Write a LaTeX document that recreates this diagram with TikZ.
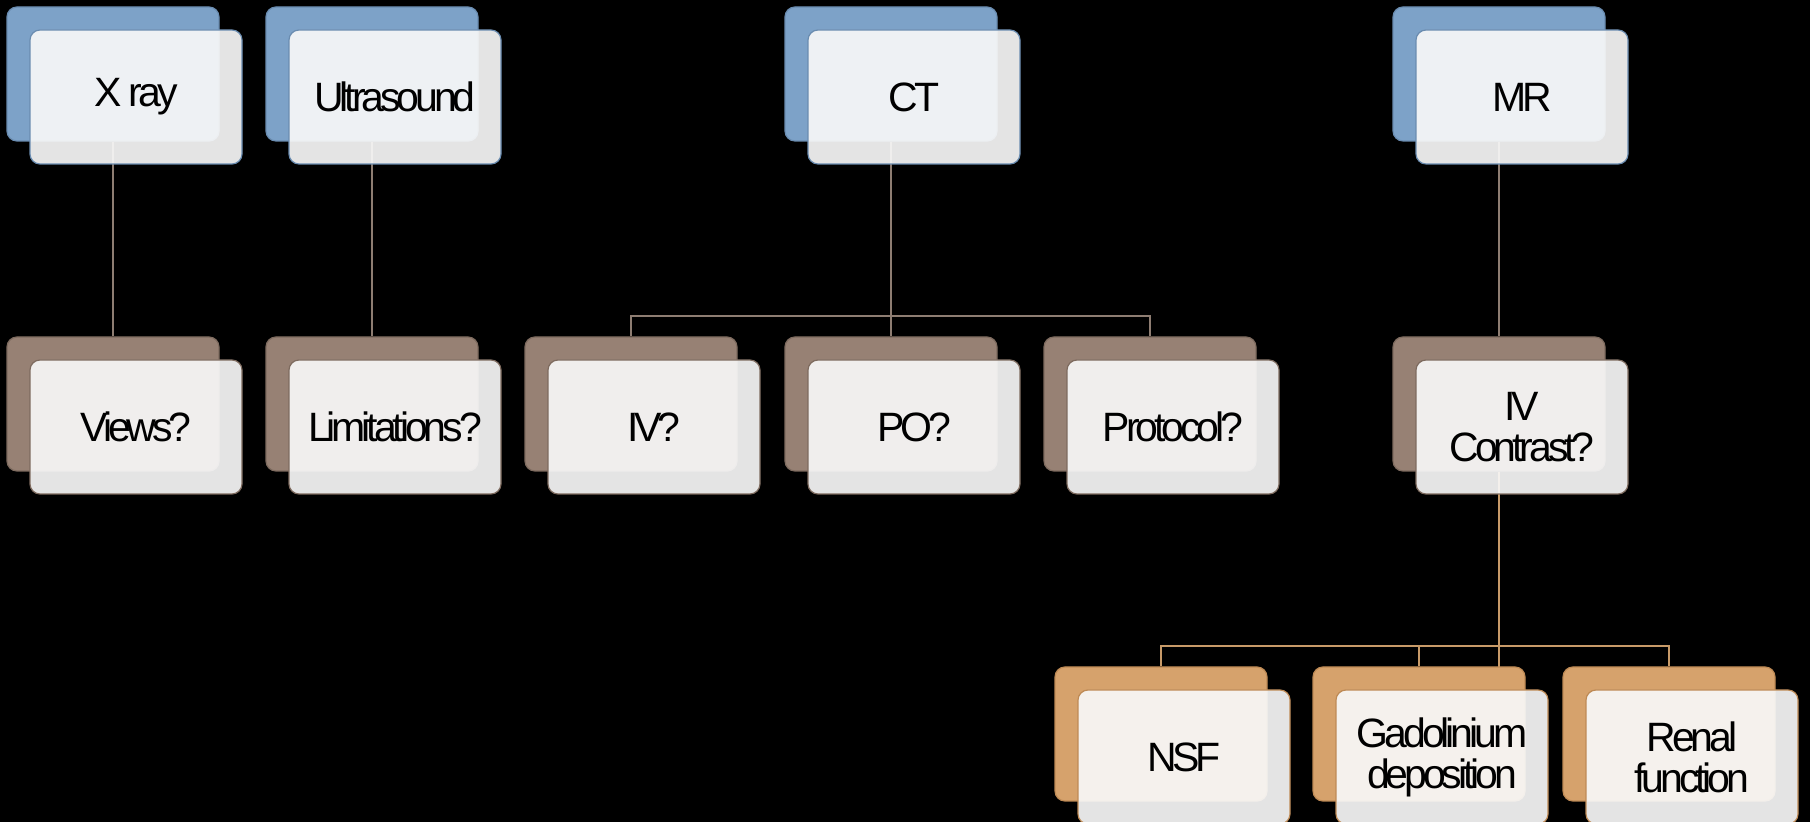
\documentclass[tikz,border=0pt]{standalone}
\usepackage{fontspec}
\setmainfont{Liberation Sans}[LetterSpace=-10]
\pgfdeclarelayer{bg}
\pgfdeclarelayer{lines}
\pgfsetlayers{bg,lines,main}
\definecolor{blueB}{HTML}{7DA2C8}
\definecolor{blueD}{HTML}{6A8CB0}
\definecolor{taupeB}{HTML}{978174}
\definecolor{taupeD}{HTML}{7E6B5F}
\definecolor{tanB}{HTML}{D6A26C}
\definecolor{tanD}{HTML}{BE8A55}
\definecolor{frontF}{HTML}{F8F8F8}
\definecolor{lineA}{HTML}{8E7D72}
\definecolor{lineB}{HTML}{C79A68}
\tikzset{
  box/.style={rectangle, rounded corners=5pt, minimum width=106pt, minimum height=67pt, inner sep=0pt, line width=0.6pt},
  backbox/.style={box},
  frontbox/.style={box, fill=frontF, fill opacity=0.92, text opacity=1, align=center,
    font=\fontsize{20.5}{20.5}\selectfont},
  lvlone/.style={fill=blueB, draw=blueD},
  lvltwo/.style={fill=taupeB, draw=taupeD},
  lvlthree/.style={fill=tanB, draw=tanD},
  fone/.style={draw=blueD},
  ftwo/.style={draw=taupeD},
  fthree/.style={draw=tanD},
  conA/.style={draw=lineA, line width=1pt},
  conB/.style={draw=lineB, line width=1pt},
}
\begin{document}
\begin{tikzpicture}[x=0.5pt, y=-0.5pt]
\begin{pgfonlayer}{bg}
\fill[black] (0,0) rectangle (1810,822);
\end{pgfonlayer}
\useasboundingbox (0,0) rectangle (1810,822);
% level 1
\node[backbox, lvlone] (xrayB) at (113,74) {};
\node[frontbox, fone] (xrayF) at (136,97) {X ray};
\node[backbox, lvlone] (usB) at (372,74) {};
\node[frontbox, fone] (usF) at (395,97) {Ultrasound};
\node[backbox, lvlone] (ctB) at (891,74) {};
\node[frontbox, fone] (ctF) at (914,97) {CT};
\node[backbox, lvlone] (mrB) at (1499,74) {};
\node[frontbox, fone] (mrF) at (1522,97) {MR};
% level 2
\node[backbox, lvltwo] (viewsB) at (113,404) {};
\node[frontbox, ftwo] (viewsF) at (136,427) {Views?};
\node[backbox, lvltwo] (limB) at (372,404) {};
\node[frontbox, ftwo] (limF) at (395,427) {Limitations?};
\node[backbox, lvltwo] (ivB) at (631,404) {};
\node[frontbox, ftwo] (ivF) at (654,427) {IV?};
\node[backbox, lvltwo] (poB) at (891,404) {};
\node[frontbox, ftwo] (poF) at (914,427) {PO?};
\node[backbox, lvltwo] (protB) at (1150,404) {};
\node[frontbox, ftwo] (protF) at (1173,427) {Protocol?};
\node[backbox, lvltwo] (ivcB) at (1499,404) {};
\node[frontbox, ftwo] (ivcF) at (1522,427) {IV\\Contrast?};
% level 3
\node[backbox, lvlthree] (nsfB) at (1161,734) {};
\node[frontbox, fthree] (nsfF) at (1184,757) {NSF};
\node[backbox, lvlthree] (gadB) at (1419,734) {};
\node[frontbox, fthree] (gadF) at (1442,757) {Gadolinium\\deposition};
\node[backbox, lvlthree] (renB) at (1669,734) {};
\node[frontbox, fthree] (renF) at (1692,757) {Renal\\function};
% connectors
\begin{pgfonlayer}{lines}
\draw[conA] (xrayB.south) -- (viewsB.north);
\draw[conA] (usB.south) -- (limB.north);
\draw[conA] (mrB.south) -- (ivcB.north);
\draw[conA] (ctB.south) -- (poB.north);
\draw[conA] (ivB.north) -- ++(0,-20) -| (protB.north);
\draw[conB] (ivcB.south) -- ++(0,243) coordinate (busB);
\draw[conB] (nsfB.north) -- ++(0,-20) -| (renB.north);
\draw[conB] (gadB.north) -- ++(0,-20);
\end{pgfonlayer}
\end{tikzpicture}
\end{document}
